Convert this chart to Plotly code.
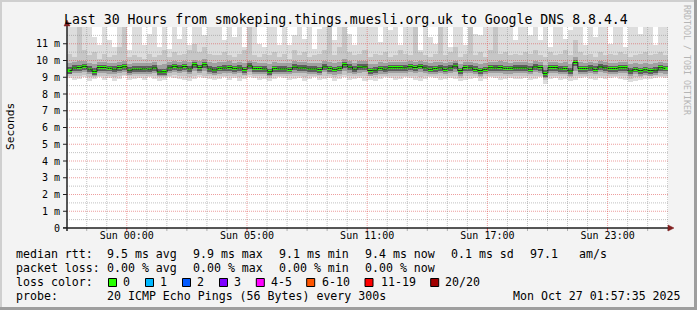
import plotly.graph_objects as go

# ---------------- data (milliseconds) ----------------
# 120 columns of 15 minutes over the last 30 hours
median_ms = [
    9.40, 9.55, 9.58, 9.65, 9.48, 9.35, 9.58, 9.58, 9.53, 9.48, 9.58, 9.63, 9.42, 9.48, 9.48,
    9.50, 9.48, 9.56, 9.32, 9.33, 9.56, 9.65, 9.56, 9.64, 9.50, 9.75, 9.58, 9.75, 9.50, 9.44,
    9.53, 9.55, 9.58, 9.52, 9.55, 9.46, 9.68, 9.52, 9.52, 9.50, 9.33, 9.52, 9.50, 9.50, 9.47,
    9.60, 9.55, 9.56, 9.50, 9.50, 9.46, 9.62, 9.52, 9.47, 9.53, 9.75, 9.60, 9.48, 9.60, 9.62,
    9.40, 9.42, 9.53, 9.48, 9.57, 9.57, 9.57, 9.56, 9.63, 9.58, 9.65, 9.56, 9.47, 9.52, 9.56,
    9.47, 9.56, 9.66, 9.40, 9.58, 9.56, 9.47, 9.40, 9.47, 9.57, 9.56, 9.58, 9.53, 9.53, 9.56,
    9.56, 9.56, 9.47, 9.62, 9.58, 9.22, 9.58, 9.58, 9.50, 9.52, 9.38, 9.88, 9.52, 9.52, 9.55,
    9.47, 9.62, 9.56, 9.52, 9.52, 9.57, 9.57, 9.38, 9.47, 9.40, 9.45, 9.40, 9.42, 9.57, 9.53,
]
# outermost (lightest) smoke band
smoke1_hi = [
    12.5, 12.5, 12.5, 12.5, 12.5, 11.4, 10.9, 12.5, 11.2, 10.8, 12.5, 12.5, 10.6, 12.5, 12.5,
    10.9, 11.6, 12.5, 10.8, 12.5, 10.7, 12.5, 11.3, 12.5, 10.9, 12.5, 12.5, 11.5, 12.5, 12.5,
    12.5, 11.2, 12.5, 11.4, 12.5, 10.8, 12.5, 12.5, 11.0, 10.8, 12.5, 12.5, 10.9, 12.5, 10.9,
    11.5, 12.5, 11.3, 12.5, 10.7, 11.9, 12.5, 12.5, 11.2, 12.5, 12.5, 11.6, 10.9, 12.5, 12.5,
    12.5, 12.5, 11.1, 12.5, 11.8, 12.5, 10.9, 12.5, 12.5, 12.5, 10.6, 12.5, 11.4, 11.0, 12.5,
    12.5, 10.8, 12.5, 12.5, 10.9, 12.5, 11.6, 11.5, 12.5, 12.5, 10.9, 12.5, 12.5, 12.5, 11.2,
    12.5, 12.5, 11.5, 12.5, 11.2, 12.5, 10.8, 12.5, 12.5, 11.3, 11.8, 12.5, 12.5, 10.9, 12.5,
    11.4, 12.5, 12.5, 11.0, 12.5, 12.5, 10.8, 12.5, 12.5, 11.6, 12.5, 12.5, 10.9, 12.5, 12.5,
]
smoke1_lo = [
    8.95, 8.85, 8.90, 9.00, 8.80, 8.90, 9.00, 8.85, 8.95, 8.80, 8.90, 9.05, 8.85, 8.90, 8.95,
    8.85, 9.00, 8.90, 8.80, 8.85, 9.00, 8.95, 8.90, 8.85, 8.75, 8.90, 9.00, 8.95, 8.90, 8.85,
    8.90, 9.00, 8.85, 8.95, 8.80, 8.90, 9.00, 8.95, 8.85, 8.90, 8.75, 8.90, 9.00, 8.95, 8.85,
    8.90, 8.95, 8.80, 8.90, 9.00, 8.85, 8.90, 8.95, 8.80, 8.90, 9.00, 8.85, 8.90, 8.95, 8.80,
    8.85, 8.80, 8.90, 9.00, 8.95, 8.85, 8.90, 9.00, 8.95, 8.85, 8.80, 8.90, 9.00, 8.95, 8.85,
    8.90, 8.95, 8.90, 8.75, 8.85, 8.90, 8.95, 8.80, 8.90, 9.00, 8.95, 8.85, 8.90, 8.95, 8.90,
    8.90, 8.95, 8.85, 8.90, 9.00, 8.60, 8.90, 8.95, 8.85, 8.90, 8.80, 8.85, 8.95, 9.00, 8.90,
    8.85, 8.95, 8.90, 8.95, 9.00, 8.90, 8.85, 8.70, 8.80, 8.85, 8.90, 8.90, 8.95, 9.00, 8.95,
]
# second smoke band
smoke2_hi = [
    10.4, 10.2, 12.5, 10.6, 10.3, 10.5, 10.1, 10.4, 10.2, 10.3, 10.8, 12.5, 10.2, 10.3, 10.2,
    10.1, 10.4, 10.2, 10.3, 10.6, 10.2, 10.5, 10.3, 10.4, 10.6, 11.0, 10.5, 10.8, 10.4, 10.3,
    10.3, 10.5, 10.3, 10.2, 10.4, 10.6, 12.5, 10.3, 10.2, 10.4, 10.3, 10.5, 10.2, 10.4, 10.1,
    10.6, 10.3, 10.5, 10.2, 10.3, 10.4, 10.6, 12.5, 10.3, 10.8, 12.5, 10.5, 10.3, 10.4, 10.6,
    10.2, 10.4, 10.3, 10.5, 10.2, 10.3, 10.6, 10.4, 10.3, 12.5, 10.5, 10.3, 10.2, 10.4, 12.5,
    10.3, 10.5, 10.8, 10.2, 10.4, 12.5, 10.3, 10.5, 10.2, 10.6, 12.5, 10.4, 10.5, 10.3, 10.4,
    10.3, 10.5, 10.4, 10.6, 10.3, 10.2, 10.5, 10.3, 10.4, 10.6, 10.3, 11.2, 10.5, 10.3, 10.4,
    10.2, 10.5, 10.3, 10.4, 10.3, 10.5, 10.4, 10.2, 10.3, 10.4, 10.5, 10.3, 10.4, 10.5, 10.3,
]
smoke2_lo = [
    9.10, 9.05, 9.10, 9.15, 9.00, 9.00, 9.10, 9.05, 9.10, 9.00, 9.10, 9.15, 9.05, 9.10, 9.10,
    9.05, 9.10, 9.05, 9.00, 9.00, 9.10, 9.15, 9.10, 9.05, 9.00, 9.10, 9.15, 9.10, 9.05, 9.05,
    9.10, 9.10, 9.05, 9.10, 9.00, 9.05, 9.15, 9.10, 9.05, 9.05, 8.95, 9.05, 9.10, 9.10, 9.05,
    9.10, 9.10, 9.00, 9.05, 9.10, 9.05, 9.10, 9.05, 9.00, 9.05, 9.15, 9.05, 9.05, 9.10, 9.05,
    9.05, 9.00, 9.05, 9.10, 9.10, 9.05, 9.05, 9.10, 9.10, 9.05, 9.00, 9.05, 9.10, 9.10, 9.05,
    9.05, 9.10, 9.05, 8.95, 9.05, 9.05, 9.10, 9.00, 9.05, 9.10, 9.10, 9.05, 9.05, 9.10, 9.05,
    9.05, 9.10, 9.05, 9.05, 9.10, 8.85, 9.05, 9.10, 9.05, 9.05, 9.00, 9.05, 9.10, 9.10, 9.05,
    9.05, 9.10, 9.05, 9.10, 9.10, 9.05, 9.05, 8.90, 9.00, 9.00, 9.05, 9.05, 9.10, 9.10, 9.10,
]
# third smoke band
smoke3_hi = [
    9.85, 9.90, 9.95, 9.95, 9.85, 9.80, 9.90, 9.90, 9.85, 9.85, 9.90, 10.0, 9.80, 9.85, 9.85,
    9.85, 9.85, 9.90, 9.75, 9.80, 9.90, 10.0, 9.90, 9.95, 9.90, 10.05, 9.95, 10.1, 9.90, 9.85,
    9.90, 9.90, 9.95, 9.85, 9.90, 9.85, 10.0, 9.90, 9.85, 9.85, 9.80, 9.90, 9.85, 9.85, 9.85,
    9.95, 9.90, 9.90, 9.85, 9.85, 9.85, 9.95, 9.90, 9.85, 9.90, 10.1, 9.95, 9.85, 9.95, 9.95,
    9.80, 9.80, 9.90, 9.85, 9.90, 9.90, 9.90, 9.90, 9.95, 9.90, 10.0, 9.90, 9.85, 9.90, 9.90,
    9.85, 9.90, 10.0, 9.80, 9.90, 9.90, 9.85, 9.80, 9.85, 9.90, 9.90, 9.95, 9.90, 9.85, 9.90,
    9.90, 9.90, 9.85, 9.95, 9.90, 9.75, 9.90, 9.90, 9.85, 9.90, 9.80, 10.2, 9.90, 9.85, 9.90,
    9.85, 9.95, 9.90, 9.85, 9.85, 9.90, 9.90, 9.80, 9.85, 9.80, 9.85, 9.80, 9.85, 9.90, 9.85,
]
smoke3_lo = [
    9.20, 9.25, 9.25, 9.30, 9.20, 9.10, 9.25, 9.25, 9.20, 9.20, 9.25, 9.30, 9.15, 9.20, 9.20,
    9.20, 9.20, 9.25, 9.05, 9.10, 9.25, 9.30, 9.25, 9.30, 9.20, 9.35, 9.25, 9.35, 9.20, 9.15,
    9.20, 9.25, 9.25, 9.20, 9.25, 9.15, 9.30, 9.20, 9.20, 9.20, 9.05, 9.20, 9.20, 9.20, 9.20,
    9.25, 9.25, 9.25, 9.20, 9.20, 9.15, 9.30, 9.20, 9.15, 9.20, 9.35, 9.25, 9.20, 9.25, 9.30,
    9.10, 9.15, 9.20, 9.20, 9.25, 9.25, 9.25, 9.25, 9.30, 9.25, 9.30, 9.25, 9.20, 9.20, 9.25,
    9.20, 9.25, 9.30, 9.10, 9.25, 9.25, 9.20, 9.10, 9.20, 9.25, 9.25, 9.25, 9.20, 9.20, 9.25,
    9.25, 9.25, 9.20, 9.30, 9.25, 8.95, 9.25, 9.25, 9.20, 9.20, 9.10, 9.40, 9.20, 9.20, 9.25,
    9.20, 9.30, 9.25, 9.20, 9.20, 9.25, 9.25, 9.10, 9.20, 9.10, 9.15, 9.10, 9.15, 9.25, 9.20,
]
# innermost (darkest) smoke band
smoke4_hi = [
    9.60, 9.72, 9.75, 9.80, 9.65, 9.55, 9.75, 9.74, 9.70, 9.66, 9.74, 9.80, 9.60, 9.65, 9.66,
    9.68, 9.65, 9.73, 9.50, 9.52, 9.73, 9.82, 9.72, 9.80, 9.68, 9.92, 9.75, 9.92, 9.68, 9.62,
    9.70, 9.72, 9.76, 9.68, 9.72, 9.63, 9.85, 9.70, 9.68, 9.67, 9.52, 9.70, 9.67, 9.68, 9.64,
    9.77, 9.72, 9.73, 9.68, 9.66, 9.63, 9.80, 9.70, 9.64, 9.70, 9.92, 9.78, 9.65, 9.77, 9.80,
    9.58, 9.60, 9.70, 9.66, 9.74, 9.75, 9.74, 9.73, 9.80, 9.75, 9.82, 9.73, 9.65, 9.70, 9.73,
    9.65, 9.73, 9.84, 9.58, 9.75, 9.73, 9.65, 9.58, 9.64, 9.74, 9.73, 9.76, 9.70, 9.70, 9.73,
    9.73, 9.74, 9.65, 9.80, 9.75, 9.42, 9.76, 9.75, 9.68, 9.70, 9.56, 10.05, 9.70, 9.70, 9.72,
    9.65, 9.80, 9.73, 9.70, 9.69, 9.74, 9.75, 9.56, 9.64, 9.58, 9.62, 9.58, 9.60, 9.74, 9.70,
]
smoke4_lo = [
    9.22, 9.36, 9.40, 9.46, 9.30, 9.15, 9.40, 9.38, 9.35, 9.30, 9.40, 9.44, 9.24, 9.30, 9.30,
    9.32, 9.30, 9.38, 9.12, 9.15, 9.38, 9.46, 9.38, 9.45, 9.32, 9.56, 9.40, 9.56, 9.32, 9.26,
    9.35, 9.37, 9.40, 9.34, 9.37, 9.28, 9.50, 9.34, 9.33, 9.32, 9.14, 9.34, 9.32, 9.33, 9.29,
    9.42, 9.36, 9.38, 9.32, 9.32, 9.28, 9.44, 9.34, 9.29, 9.35, 9.56, 9.42, 9.30, 9.42, 9.44,
    9.22, 9.24, 9.35, 9.30, 9.39, 9.38, 9.39, 9.38, 9.45, 9.40, 9.47, 9.38, 9.29, 9.34, 9.38,
    9.29, 9.38, 9.48, 9.22, 9.40, 9.38, 9.29, 9.22, 9.29, 9.39, 9.38, 9.40, 9.35, 9.35, 9.38,
    9.38, 9.38, 9.29, 9.44, 9.40, 9.02, 9.40, 9.40, 9.32, 9.34, 9.20, 9.68, 9.34, 9.34, 9.37,
    9.29, 9.44, 9.38, 9.34, 9.34, 9.39, 9.39, 9.20, 9.29, 9.22, 9.27, 9.22, 9.24, 9.39, 9.35,
]

# time axis (hours since start of the 30 hour window)
column_hours = 0.25
window_hours = 30
major_tick_hours = [2.985, 8.985, 14.985, 20.985, 26.985]
major_tick_labels = ["Sun 00:00", "Sun 05:00", "Sun 11:00", "Sun 17:00", "Sun 23:00"]
y_tick_values = list(range(0, 12))
y_tick_labels = ["0"] + [f"{v} m" for v in range(1, 12)]

title_text = "Last 30 Hours from smokeping.things.muesli.org.uk to Google DNS 8.8.4.4"
stats_rtt = ["median rtt:", "9.5 ms avg", "9.9 ms max", "9.1 ms min", "9.4 ms now", "0.1 ms sd", "97.1", "am/s"]
stats_loss = ["packet loss:", "0.00 % avg", "0.00 % max", "0.00 % min", "0.00 % now"]
loss_labels = ["0", "1", "2", "3", "4-5", "6-10", "11-19", "20/20"]
loss_colors = ["#26ff00", "#00b8ff", "#0059ff", "#7e00ff", "#ff00ff", "#ff5500", "#ff0000", "#a10000"]
probe_text = "20 ICMP Echo Pings (56 Bytes) every 300s"
date_text = "Mon Oct 27 01:57:35 2025"

# ---------------- layout geometry (pixels) ----------------
W, H = 697, 310
PL, PR, PT, PB = 67, 668, 27, 228
MONO = "DejaVu Sans Mono"


def fx(px):
    return (px - PL) / (PR - PL)


def fy(py):
    return (PB - py) / (PB - PT)


n = len(median_ms)
xs = [column_hours * (i + 0.5) for i in range(n)]

fig = go.Figure()


def band(lo, hi, color):
    fig.add_trace(go.Bar(
        x=xs, y=[h - l for l, h in zip(lo, hi)], base=lo, width=column_hours,
        marker=dict(color=color, line=dict(width=0)), hoverinfo="skip", showlegend=False))


band(smoke1_lo, smoke1_hi, "#dddddd")
band(smoke2_lo, smoke2_hi, "#c6c6c6")
band(smoke3_lo, smoke3_hi, "#a0a0a0")
band(smoke4_lo, smoke4_hi, "#5e5e5e")

# median: thin dark step line + green segments (loss 0)
fig.add_trace(go.Scatter(x=xs, y=median_ms, mode="lines",
                         line=dict(shape="hvh", color="#202020", width=1),
                         hoverinfo="skip", showlegend=False))
seg_h = 0.15
fig.add_trace(go.Bar(x=xs, y=[seg_h] * n, base=[m - seg_h / 2 for m in median_ms],
                     width=column_hours, marker=dict(color=loss_colors[0], line=dict(width=0)),
                     hoverinfo="skip", showlegend=False))

shapes = []
MINOR_GRID = "rgba(143,143,143,0.55)"
MAJOR_GRID = "rgba(222,79,79,0.55)"
DOTS = "1px,1px"
# horizontal grid
for k in range(0, 24):
    v = k * 0.5
    if v == 0:
        continue
    major = (k % 2 == 0)
    shapes.append(dict(type="line", xref="paper", yref="y", x0=0, x1=1, y0=v, y1=v, layer="above",
                       line=dict(color=MAJOR_GRID if major else MINOR_GRID, width=1, dash=DOTS)))
# vertical grid
first = major_tick_hours[0] % 1
h = first
while h < window_hours:
    major = any(abs(h - m) < 1e-6 for m in major_tick_hours)
    shapes.append(dict(type="line", xref="x", yref="paper", x0=h, x1=h, y0=0, y1=1, layer="above",
                       line=dict(color=MAJOR_GRID if major else MINOR_GRID, width=1, dash=DOTS)))
    # tick marks under the axis
    shapes.append(dict(type="line", xref="x", yref="paper", x0=h, x1=h, y0=fy(PB), y1=fy(PB + 3),
                       layer="above", line=dict(color="#e05050" if major else "#b0b0b0", width=1)))
    h += 1
# y ticks
for v in y_tick_values:
    shapes.append(dict(type="line", xref="paper", yref="y", x0=fx(PL - 4), x1=fx(PL), y0=v, y1=v,
                       layer="above", line=dict(color="#1f1f1f", width=1)))
# axes
AX = "#1f1f1f"
shapes.append(dict(type="line", xref="paper", yref="paper", x0=fx(PL - 4), x1=fx(PR + 1),
                   y0=0, y1=0, layer="above", line=dict(color=AX, width=1.5)))
shapes.append(dict(type="line", xref="paper", yref="paper", x0=0, x1=0,
                   y0=fy(PB + 3), y1=fy(PT - 2), layer="above", line=dict(color=AX, width=1.5)))
ARROW = "#801f1f"
shapes.append(dict(type="path", xref="paper", yref="paper", layer="above",
                   path=f"M {fx(PL-3)} {fy(PT-1)} L {fx(PL+3)} {fy(PT-1)} L {fx(PL)} {fy(PT-7)} Z",
                   fillcolor=ARROW, line=dict(color=ARROW, width=0.5)))
shapes.append(dict(type="path", xref="paper", yref="paper", layer="above",
                   path=f"M {fx(PR)} {fy(PB-3)} L {fx(PR)} {fy(PB+3)} L {fx(PR+6)} {fy(PB)} Z",
                   fillcolor=ARROW, line=dict(color=ARROW, width=0.5)))
# outer frame shading
shapes.append(dict(type="rect", xref="paper", yref="paper", x0=fx(0), x1=fx(2), y0=fy(H), y1=fy(0),
                   fillcolor="#cfcfcf", line=dict(width=0), layer="below"))
shapes.append(dict(type="rect", xref="paper", yref="paper", x0=fx(0), x1=fx(W), y0=fy(2), y1=fy(0),
                   fillcolor="#cfcfcf", line=dict(width=0), layer="below"))
shapes.append(dict(type="rect", xref="paper", yref="paper", x0=fx(W - 3), x1=fx(W), y0=fy(H), y1=fy(0),
                   fillcolor="#9e9e9e", line=dict(width=0), layer="below"))
shapes.append(dict(type="rect", xref="paper", yref="paper", x0=fx(0), x1=fx(W), y0=fy(H), y1=fy(H - 3),
                   fillcolor="#9e9e9e", line=dict(width=0), layer="below"))

annotations = []


def text(px, py, s, size=11.6, color="#000000", anchor="left", angle=0):
    annotations.append(dict(x=fx(px), y=fy(py), xref="paper", yref="paper", text=s, showarrow=False,
                            xanchor=anchor, yanchor="middle", textangle=angle,
                            font=dict(family=MONO, size=size, color=color),
                            borderpad=0, borderwidth=0))


text(64, 19.5, title_text, size=13.2)
text(11, 127, "Seconds", size=11.2, anchor="center", angle=-90)
text(687, 60, "RRDTOOL / TOBI OETIKER", size=8.3, color="#b5b5b5", anchor="center", angle=90)

rtt_x = [16, 107.3, 193.3, 279.3, 365, 451, 530, 579.3]
for s, px in zip(stats_rtt, rtt_x):
    text(px, 254.3, s)
loss_x = [16, 107.3, 193.3, 279.3, 365]
for s, px in zip(stats_loss, loss_x):
    text(px, 268.3, s)
text(16, 282.3, "loss color:")
box_x = [108.5, 145.5, 182.5, 219.5, 256.3, 306.7, 365, 430.7]
lbl_x = [123.3, 160, 196.7, 234.3, 270.7, 321.7, 380.7, 445.3]
for lab, col, bx, lx in zip(loss_labels, loss_colors, box_x, lbl_x):
    shapes.append(dict(type="rect", xref="paper", yref="paper", x0=fx(bx), x1=fx(bx + 8),
                       y0=fy(286.5), y1=fy(278.5), fillcolor=col, line=dict(color="#000000", width=1)))
    text(lx, 282.3, lab)
text(16, 296, "probe:")
text(107.3, 296, probe_text)
text(512.7, 296, date_text)

fig.update_layout(
    width=W, height=H,
    margin=dict(l=PL, r=W - PR, t=PT, b=H - PB, pad=0),
    paper_bgcolor="#f3f3f3", plot_bgcolor="#ffffff",
    barmode="overlay", bargap=0, showlegend=False,
    shapes=shapes, annotations=annotations,
    xaxis=dict(range=[0, window_hours], tickmode="array", tickvals=major_tick_hours,
               ticktext=major_tick_labels, showgrid=False, zeroline=False, showline=False,
               ticks="", tickfont=dict(family=MONO, size=10, color="#000000"), fixedrange=True),
    yaxis=dict(range=[0, 12], tickmode="array", tickvals=y_tick_values, ticktext=y_tick_labels,
               showgrid=False, zeroline=False, showline=False, ticks="outside", ticklen=4,
               tickcolor="rgba(0,0,0,0)",
               tickfont=dict(family=MONO, size=10, color="#000000"), fixedrange=True),
)

fig.write_html("out.html")
